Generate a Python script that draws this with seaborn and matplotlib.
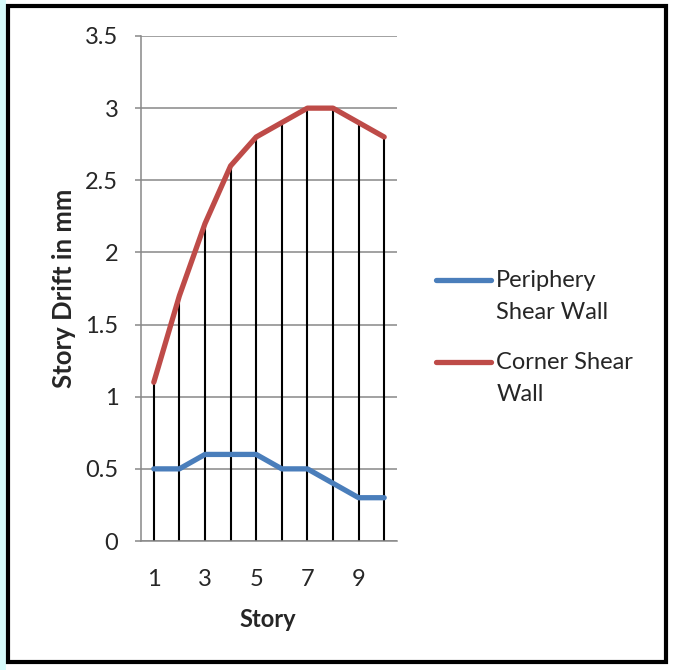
import numpy as np
import pandas as pd
import matplotlib
matplotlib.use("Agg")
import matplotlib.pyplot as plt
import seaborn as sns
from matplotlib.legend_handler import HandlerLine2D
from matplotlib.patches import Rectangle

# ---- data ----
stories = [1, 2, 3, 4, 5, 6, 7, 8, 9, 10]
periphery = [0.5, 0.5, 0.6, 0.6, 0.6, 0.5, 0.5, 0.4, 0.3, 0.3]
corner = [1.1, 1.7, 2.2, 2.6, 2.8, 2.9, 3.0, 3.0, 2.9, 2.8]
series_names = ["Periphery Shear Wall", "Corner Shear Wall"]
legend_labels = ["Periphery\nShear Wall", "Corner Shear\nWall"]
y_ticks = [0, 0.5, 1, 1.5, 2, 2.5, 3, 3.5]
y_ticklabels = ["0", "0.5", "1", "1.5", "2", "2.5", "3", "3.5"]
x_ticklabels = ["1", "", "3", "", "5", "", "7", "", "9", ""]

df = pd.DataFrame({
    "Story": stories * 2,
    "Drift": periphery + corner,
    "Series": [series_names[0]] * len(stories) + [series_names[1]] * len(stories),
})

sns.set_style("white")
plt.rcParams["font.family"] = ["Lato", "DejaVu Sans"]
FS = 17

W, H = 682, 670
fig = plt.figure(figsize=(W / 100, H / 100), dpi=100)
ax = fig.add_axes([141 / W, 1 - 541 / H, (397 - 141) / W, (541 - 36) / H])

grid_c = "#888888"
ax.set_axisbelow(True)
ax.yaxis.grid(True, color=grid_c, linewidth=1.1)
ax.xaxis.grid(False)

# drop lines
ax.vlines(stories, 0, np.maximum(corner, periphery), color="black", linewidth=1.5, zorder=2)

palette = {series_names[0]: "#4A7EBB", series_names[1]: "#BE4B48"}
sns.lineplot(data=df, x="Story", y="Drift", hue="Series", palette=palette,
             linewidth=3.8, ax=ax, legend=False, zorder=3,
             solid_capstyle="round")

ax.set_xlim(0.5, 10.5)
ax.set_ylim(0, 3.5)
ax.set_yticks(y_ticks)
ax.set_yticklabels(y_ticklabels, fontsize=FS)
ax.set_xticks(stories)
ax.set_xticklabels(x_ticklabels, fontsize=FS)
ax.tick_params(axis="y", length=4.3, width=1.1, color=grid_c, pad=12, left=True)
ax.tick_params(axis="x", length=0, pad=20)

for s in ["top", "right"]:
    ax.spines[s].set_visible(False)
for s in ["left", "bottom"]:
    ax.spines[s].set_color(grid_c)
    ax.spines[s].set_linewidth(1.1)

ax.set_xlabel("Story", fontsize=FS, fontweight="bold")
ax.set_ylabel("Story Drift in mm", fontsize=18.5, fontweight="bold")
ax.xaxis.set_label_coords((268 - 141) / 256, (541 - 608) / 505)
ax.yaxis.set_label_coords((76 - 141) / 256, 0.5)


class TopHandler(HandlerLine2D):
    def create_artists(self, legend, orig_handle, xdescent, ydescent,
                       width, height, fontsize, trans):
        arts = super().create_artists(legend, orig_handle, xdescent, ydescent,
                                      width, height, fontsize, trans)
        for a in arts:
            a.set_ydata(np.asarray(a.get_ydata(), dtype=float) + 12.2)
        return arts


handles = ax.get_lines()[:2]
hmap = {h: TopHandler() for h in handles}
leg = fig.legend(handles, legend_labels, loc="upper left",
                 bbox_to_anchor=(436 / W, 1 - 270 / H), bbox_transform=fig.transFigure,
                 frameon=False, fontsize=FS, borderpad=0, borderaxespad=0,
                 handlelength=2.35, handletextpad=0.2, labelspacing=1.2,
                 handler_map=hmap)
for t in leg.get_texts():
    t.set_linespacing(1.67)

# outer frame and background strip
fig.patches.append(Rectangle((0, 0), 6 / W, 1, transform=fig.transFigure,
                             facecolor="#d6fbfb", edgecolor="none", zorder=0))
fig.patches.append(Rectangle((8 / W, 1 - 662 / H), (666 - 8) / W, (662 - 5.5) / H,
                             transform=fig.transFigure, facecolor="none",
                             edgecolor="black", linewidth=3, zorder=5))

fig.savefig("out.png", dpi=100)
